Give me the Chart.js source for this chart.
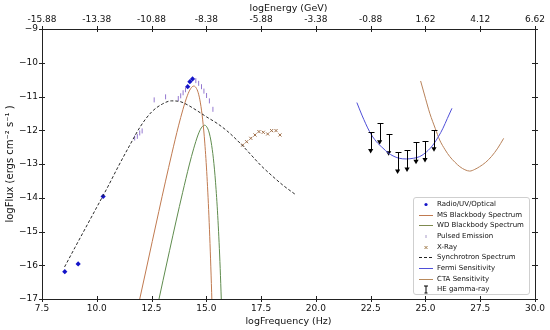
<!DOCTYPE html>
<html lang="en">
<head>
<meta charset="UTF-8">
<title>logFlux vs logFrequency</title>
<script src="https://cdn.jsdelivr.net/npm/chart.js"></script>
<style>
  body { margin: 0; background: #fff; font-family: "DejaVu Sans", sans-serif; }
  #wrap { position: relative; width: 550px; height: 330px; }
  #legend { position: absolute; left: 413px; top: 197px; width: 117px; height: 98px; box-sizing: border-box;
            border: 1px solid #cfcfcf; border-radius: 3px; background: rgba(255,255,255,0.85);
            font-size: 7px; color: #111; padding-top: 1px; }
  .row { position: relative; height: 10.67px; line-height: 10.67px; white-space: nowrap; }
  .row svg { position: absolute; left: 5px; top: 1px; }
  .row span { position: absolute; left: 23px; }
</style>
</head>
<body>
<div id="wrap">
  <canvas id="sed" width="550" height="330"></canvas>
  <div id="legend">
    <div class="row"><svg width="14" height="9"><circle cx="7" cy="4.5" r="1.6" fill="#1414c8"/></svg><span>Radio/UV/Optical</span></div>
    <div class="row"><svg width="14" height="9"><line x1="0" y1="4.5" x2="14" y2="4.5" stroke="#c07a50" stroke-width="1"/></svg><span>MS Blackbody Spectrum</span></div>
    <div class="row"><svg width="14" height="9"><line x1="0" y1="4.5" x2="14" y2="4.5" stroke="#7f8a50" stroke-width="1"/></svg><span>WD Blackbody Spectrum</span></div>
    <div class="row"><svg width="14" height="9"><line x1="7" y1="3" x2="7" y2="6" stroke="#a89cc8" stroke-width="1"/></svg><span>Pulsed Emission</span></div>
    <div class="row"><svg width="14" height="9"><path d="M5.5 3L8.5 6M8.5 3L5.5 6" stroke="#a07a4a" stroke-width="1"/></svg><span>X-Ray</span></div>
    <div class="row"><svg width="14" height="9"><line x1="0" y1="4.5" x2="14" y2="4.5" stroke="#222" stroke-width="1" stroke-dasharray="3,2"/></svg><span>Synchrotron Spectrum</span></div>
    <div class="row"><svg width="14" height="9"><line x1="0" y1="4.5" x2="14" y2="4.5" stroke="#4f4fd8" stroke-width="1"/></svg><span>Fermi Sensitivity</span></div>
    <div class="row"><svg width="14" height="9"><line x1="0" y1="4.5" x2="14" y2="4.5" stroke="#b88a5c" stroke-width="1"/></svg><span>CTA Sensitivity</span></div>
    <div class="row"><svg width="14" height="9"><path d="M5 1H9M7 1V8M5.5 8H8.5" stroke="#000" stroke-width="1"/></svg><span>HE gamma-ray</span></div>
  </div>
</div>
<script>
// top axis labels (logEnergy, GeV) at the same positions as the frequency ticks
const energyLabels = ['-15.88', '-13.38', '-10.88', '-8.38', '-5.88', '-3.38', '-0.88', '1.62', '4.12', '6.62'];

// Radio/UV/Optical
const radioX = [8.54, 9.15, 10.29, 14.15, 14.25, 14.37];
const radioY = [-16.19, -15.96, -13.96, -10.71, -10.56, -10.48];

// Pulsed emission
const pulsedX = [11.73, 11.85, 11.96, 12.07, 12.62, 13.14, 13.72, 13.83, 13.94, 14.05, 14.52, 14.65, 14.78, 14.89, 15.01, 15.14, 15.30];
const pulsedY = [-12.23, -12.18, -12.08, -12.02, -11.10, -11.01, -11.06, -10.98, -10.89, -10.80, -10.53, -10.61, -10.71, -10.84, -10.97, -11.13, -11.38];

// X-Ray
const xrayX = [16.66, 16.84, 17.03, 17.22, 17.40, 17.60, 17.80, 17.98, 18.18, 18.36];
const xrayY = [-12.44, -12.34, -12.24, -12.14, -12.04, -12.06, -12.11, -12.01, -12.01, -12.14];

// MS blackbody spectrum
const msX = [11.93, 12.23, 12.53, 12.83, 13.13, 13.43, 13.73, 13.93, 14.13, 14.28, 14.43, 14.53, 14.63, 14.73, 14.83, 14.93, 15.03, 15.13, 15.23, 15.28];
const msY = [-17.09, -16.20, -15.30, -14.41, -13.53, -12.68, -11.87, -11.39, -10.98, -10.77, -10.69, -10.74, -10.89, -11.19, -11.67, -12.38, -13.37, -14.73, -16.54, -17.65];

// WD blackbody spectrum
const wdX = [12.72, 13.02, 13.32, 13.62, 13.92, 14.22, 14.42, 14.62, 14.77, 14.92, 15.02, 15.12, 15.22, 15.32, 15.42, 15.52, 15.62, 15.72];
const wdY = [-17.36, -16.46, -15.57, -14.69, -13.84, -13.03, -12.55, -12.14, -11.93, -11.85, -11.90, -12.05, -12.35, -12.83, -13.54, -14.53, -15.89, -17.70];

// Synchrotron spectrum
const syncX = [8.53, 9.0, 9.5, 10.0, 10.5, 11.0, 11.5, 12.0, 12.5, 13.0, 13.4, 13.8, 14.2, 14.6, 15.0, 15.5, 16.0, 16.64, 17.0, 17.5, 18.0, 18.5, 19.1];
const syncY = [-16.05, -15.48, -14.88, -14.28, -13.68, -13.05, -12.45, -11.88, -11.46, -11.22, -11.13, -11.15, -11.27, -11.43, -11.60, -11.80, -12.05, -12.45, -12.70, -13.05, -13.35, -13.63, -13.92];

// Fermi sensitivity
const fermiX = [21.87, 22.1, 22.45, 22.75, 23.06, 23.3, 23.52, 23.8, 24.13, 24.45, 24.74, 25.05, 25.34, 25.6, 25.8, 26.0, 26.21];
const fermiY = [-11.18, -11.55, -12.04, -12.33, -12.53, -12.67, -12.76, -12.83, -12.85, -12.83, -12.78, -12.64, -12.44, -12.18, -11.94, -11.65, -11.35];

// CTA sensitivity
const ctaX = [24.78, 25.0, 25.2, 25.45, 25.65, 25.9, 26.11, 26.35, 26.57, 26.8, 27.02, 27.25, 27.47, 27.75, 28.01, 28.3, 28.57];
const ctaY = [-10.54, -11.05, -11.50, -11.95, -12.29, -12.58, -12.78, -12.95, -13.08, -13.17, -13.21, -13.16, -13.08, -12.95, -12.78, -12.53, -12.24];

// HE gamma-ray upper limits (cap value and arrow value)
const gammaX = [22.50, 22.91, 23.32, 23.73, 24.16, 24.57, 24.98, 25.39];
const gammaTop = [-12.04, -11.78, -12.11, -12.65, -12.59, -12.36, -12.31, -11.99];
const gammaLow = [-12.60, -12.34, -12.67, -13.21, -13.15, -12.92, -12.87, -12.55];

function pts(xs, ys) {
    return xs.map((x, i) => ({ x: x, y: ys[i] }));
}

function curve(label, xs, ys, color, dash) {
    return {
        label: label, data: pts(xs, ys), showLine: true, borderColor: color, borderWidth: 1,
        borderDash: dash || [], pointRadius: 0, cubicInterpolationMode: 'monotone', fill: false
    };
}

// matplotlib-like "inout" tick marks, plus the right frame line
const frameTicks = {
    id: 'frameTicks',
    afterDraw(chart) {
        const ctx = chart.ctx, a = chart.chartArea;
        const x = chart.scales.x, y = chart.scales.y;
        ctx.save();
        ctx.strokeStyle = '#222';
        ctx.lineWidth = 1;
        ctx.beginPath();
        ctx.moveTo(a.right + 0.5, a.top);
        ctx.lineTo(a.right + 0.5, a.bottom);
        x.ticks.forEach(t => {
            const px = Math.round(x.getPixelForValue(t.value)) + 0.5;
            ctx.moveTo(px, a.bottom - 3); ctx.lineTo(px, a.bottom + 3);
            ctx.moveTo(px, a.top - 3); ctx.lineTo(px, a.top + 3);
        });
        y.ticks.forEach(t => {
            const py = Math.round(y.getPixelForValue(t.value)) + 0.5;
            ctx.moveTo(a.left - 3, py); ctx.lineTo(a.left + 3, py);
            ctx.moveTo(a.right - 3, py); ctx.lineTo(a.right + 3, py);
        });
        ctx.stroke();
        ctx.restore();
    }
};

// upper-limit bars for the HE gamma-ray points
const gammaBars = {
    id: 'gammaBars',
    afterDatasetsDraw(chart) {
        const ctx = chart.ctx, x = chart.scales.x, y = chart.scales.y;
        ctx.save();
        ctx.strokeStyle = '#000';
        ctx.lineWidth = 1;
        ctx.beginPath();
        gammaX.forEach((gx, i) => {
            const px = Math.round(x.getPixelForValue(gx)) + 0.5;
            const top = Math.round(y.getPixelForValue(gammaTop[i])) + 0.5;
            const low = y.getPixelForValue(gammaLow[i]);
            ctx.moveTo(px, top); ctx.lineTo(px, low);
            ctx.moveTo(px - 3, top); ctx.lineTo(px + 3, top);
        });
        ctx.stroke();
        ctx.restore();
    }
};

Chart.defaults.font.family = '"DejaVu Sans", sans-serif';
Chart.defaults.font.size = 9;
Chart.defaults.color = '#111';

new Chart(document.getElementById('sed'), {
    type: 'scatter',
    data: {
        datasets: [
            curve('Synchrotron Spectrum', syncX, syncY, '#2a2a2a', [3, 2]),
            curve('MS Blackbody Spectrum', msX, msY, '#c07a50'),
            curve('WD Blackbody Spectrum', wdX, wdY, '#5f8c4e'),
            curve('Fermi Sensitivity', fermiX, fermiY, '#4f4fd8'),
            curve('CTA Sensitivity', ctaX, ctaY, '#b8825a'),
            { label: 'Pulsed Emission', data: pts(pulsedX, pulsedY), pointStyle: 'line', rotation: 90,
              pointRadius: 2.5, borderColor: '#9478d0', borderWidth: 1 },
            { label: 'X-Ray', data: pts(xrayX, xrayY), pointStyle: 'crossRot',
              pointRadius: 2.2, borderColor: '#a0704a', borderWidth: 1 },
            { label: 'Radio/UV/Optical', data: pts(radioX, radioY), pointStyle: 'rectRot',
              pointRadius: 2.6, backgroundColor: '#1414c8', borderColor: '#1414c8', borderWidth: 0 },
            { label: 'HE gamma-ray', data: pts(gammaX, gammaLow), pointStyle: 'triangle', rotation: 180,
              pointRadius: 3, backgroundColor: '#000', borderColor: '#000', borderWidth: 0 }
        ]
    },
    options: {
        responsive: false,
        animation: false,
        events: [],
        layout: { padding: { right: 15 } },
        plugins: { legend: { display: false }, tooltip: { enabled: false } },
        scales: {
            x: {
                type: 'linear', position: 'bottom', min: 7.5, max: 30,
                afterFit(s) { s.height = 31; },
                grid: { display: false, drawTicks: false },
                border: { display: true, color: '#222' },
                ticks: { stepSize: 2.5, padding: 4, autoSkip: false, maxRotation: 0,
                         callback: v => v.toFixed(1) },
                title: { display: true, text: 'logFrequency (Hz)', font: { size: 9.5 }, padding: { top: 0, bottom: 3 } }
            },
            x2: {
                type: 'linear', position: 'top', min: 7.5, max: 30,
                afterFit(s) { s.height = 29; },
                grid: { display: false, drawTicks: false },
                border: { display: true, color: '#222' },
                ticks: { stepSize: 2.5, padding: 4, autoSkip: false, maxRotation: 0,
                         callback: (v, i) => energyLabels[i] },
                title: { display: true, text: 'logEnergy (GeV)', font: { size: 9.5 }, padding: { top: 3, bottom: 0 } }
            },
            y: {
                type: 'linear', position: 'left', min: -17, max: -9,
                afterFit(s) { s.width = 42; },
                grid: { display: false, drawTicks: false },
                border: { display: true, color: '#222' },
                ticks: { stepSize: 1, padding: 4, callback: v => '\u2212' + Math.abs(v) },
                title: { display: true, text: 'logFlux (ergs cm\u207B\u00B2 s\u207B\u00B9 )', font: { size: 10 }, padding: { top: 4, bottom: 0 } }
            }
        }
    },
    plugins: [frameTicks, gammaBars]
});
</script>
</body>
</html>
